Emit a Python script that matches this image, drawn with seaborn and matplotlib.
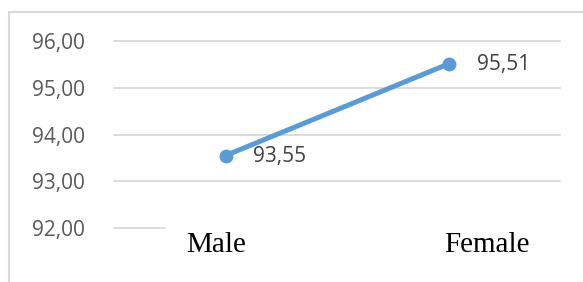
import matplotlib
matplotlib.use("Agg")
import matplotlib.pyplot as plt
import seaborn as sns
import pandas as pd
from matplotlib.patches import Rectangle

categories = ["Male", "Female"]
values = [93.55, 95.51]
y_ticks = [92, 93, 94, 95, 96]
tick_labels = ["92,00", "93,00", "94,00", "95,00", "96,00"]
value_labels = ["93,55", "95,51"]

sns.set_theme(style="white")
plt.rcParams['font.family'] = ['Open Sans', 'DejaVu Sans']

df = pd.DataFrame({"x": [0, 1], "y": values})

fig = plt.figure(figsize=(5.83, 2.82), dpi=100)
ax = fig.add_axes([114/583, (282-228)/282, (560-114)/583, (228-41)/282])

# outer border (cropped at right/bottom)
fig.patches.append(Rectangle((9/583, -0.2), 1.2, (282-12)/282 + 0.2,
                             transform=fig.transFigure, fill=False,
                             edgecolor="#D9D9D9", linewidth=1.5, zorder=0))

for yv in y_ticks[1:]:
    ax.axhline(yv, color="#D9D9D9", linewidth=1.3, zorder=0)
ax.plot([0, (165-114)/(560-114)], [0, 0], transform=ax.transAxes,
        color="#D9D9D9", linewidth=1.3, clip_on=False, zorder=0)

sns.lineplot(data=df, x="x", y="y", ax=ax, color="#5B9BD5", linewidth=3.6,
             marker="o", markersize=10, markeredgewidth=0, zorder=3)
for c in ax.lines:
    c.set_clip_on(False)

ax.set_xlim(-0.5, 1.5)
ax.set_ylim(92, 96)
ax.set_yticks(y_ticks)
ax.set_yticklabels(tick_labels, fontsize=15, color="#595959")
ax.tick_params(axis="y", length=0, pad=21)
ax.set_xticks([])
ax.set_xlabel("")
ax.set_ylabel("")
for s in ax.spines.values():
    s.set_visible(False)

for i, lab in enumerate(value_labels):
    ax.annotate(lab, (i, values[i]), xytext=(28, -1), textcoords="offset pixels",
                ha="left", va="center", fontsize=15, color="#404040")

offsets = [-9, 38]
for i, cat in enumerate(categories):
    ax.annotate(cat, (i, 92), xytext=(offsets[i], -17), textcoords="offset pixels",
                ha="center", va="center", fontsize=21, color="black",
                family=["Liberation Serif"], annotation_clip=False)

fig.savefig("out.png", dpi=100)
